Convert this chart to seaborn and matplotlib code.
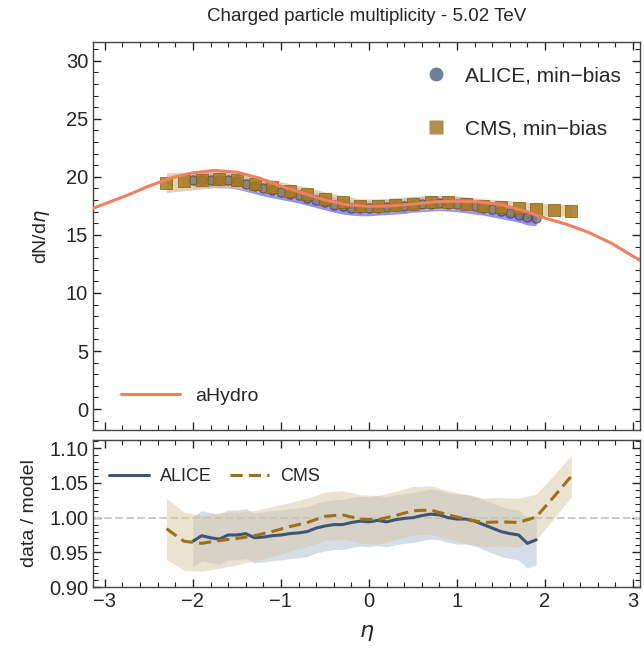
import numpy as np
import pandas as pd
import matplotlib
matplotlib.use("Agg")
import matplotlib.pyplot as plt
import seaborn as sns
from matplotlib.ticker import MultipleLocator, FormatStrFormatter
from matplotlib.lines import Line2D

sns.set_style("ticks")
plt.rcParams['font.family'] = ['Liberation Sans', 'DejaVu Sans']
plt.rcParams['mathtext.fontset'] = 'dejavusans'

# aHydro model curve
model_eta = [-3.13, -2.75, -2.5, -2.25, -2.0, -1.75, -1.5, -1.25, -1.0, -0.75, -0.5, -0.25,
             0.0, 0.25, 0.5, 0.75, 1.0, 1.25, 1.5, 1.75, 2.0, 2.25, 2.5, 2.75, 3.08]
model_dn = [17.3, 18.4, 19.2, 19.9, 20.35, 20.55, 20.4, 19.9, 19.2, 18.6, 18.0, 17.6,
            17.45, 17.5, 17.65, 17.85, 17.9, 17.85, 17.6, 17.1, 16.45, 15.9, 15.2, 14.3, 12.8]

# ALICE min-bias
alice_eta = [-2.0, -1.9, -1.8, -1.7, -1.6, -1.5, -1.4, -1.3, -1.2, -1.1, -1.0, -0.9, -0.8, -0.7,
             -0.6, -0.5, -0.4, -0.3, -0.2, -0.1, 0.0, 0.1, 0.2, 0.3, 0.4, 0.5, 0.6, 0.7, 0.8,
             0.9, 1.0, 1.1, 1.2, 1.3, 1.4, 1.5, 1.6, 1.7, 1.8, 1.9]
alice_dn = [19.7, 19.75, 19.75, 19.7, 19.7, 19.6, 19.4, 19.2, 19.0, 18.85, 18.7, 18.55, 18.4, 18.2,
            18.0, 17.8, 17.6, 17.45, 17.35, 17.3, 17.3, 17.35, 17.4, 17.45, 17.5, 17.6, 17.65, 17.7, 17.75,
            17.7, 17.65, 17.55, 17.45, 17.35, 17.2, 17.05, 16.9, 16.75, 16.5, 16.45]
alice_err = 0.65

# CMS min-bias
cms_eta = [-2.3, -2.1, -1.9, -1.7, -1.5, -1.3, -1.1, -0.9, -0.7, -0.5, -0.3, -0.1,
           0.1, 0.3, 0.5, 0.7, 0.9, 1.1, 1.3, 1.5, 1.7, 1.9, 2.1, 2.3]
cms_dn = [19.5, 19.6, 19.7, 19.8, 19.7, 19.4, 19.1, 18.8, 18.5, 18.1, 17.8, 17.5,
          17.5, 17.6, 17.7, 17.8, 17.8, 17.7, 17.5, 17.4, 17.3, 17.2, 17.15, 17.1]
cms_err = [0.85, 0.8, 0.75, 0.7, 0.7, 0.65, 0.65, 0.6, 0.6, 0.6, 0.6, 0.6,
           0.6, 0.6, 0.6, 0.6, 0.6, 0.6, 0.6, 0.6, 0.6, 0.55, 0.5, 0.5]

# data / model ratios
alice_ratio = [0.966, 0.974, 0.971, 0.969, 0.975, 0.975, 0.977, 0.971, 0.972, 0.974, 0.975, 0.977,
               0.978, 0.980, 0.985, 0.988, 0.990, 0.990, 0.993, 0.995, 0.994, 0.996, 0.994, 0.997,
               0.999, 1.000, 1.003, 1.005, 1.004, 1.000, 0.998, 0.998, 0.995, 0.990, 0.985, 0.980,
               0.977, 0.975, 0.963, 0.968]
alice_ratio_err = 0.036
cms_ratio = [0.984, 0.966, 0.963, 0.967, 0.970, 0.974, 0.980, 0.987, 0.993, 1.002, 1.004, 0.998,
             0.997, 1.003, 1.010, 1.011, 1.004, 0.998, 0.993, 0.994, 0.993, 1.001, 1.030, 1.060]
cms_ratio_err = [0.044, 0.042, 0.040, 0.040, 0.038, 0.036, 0.036, 0.035, 0.035, 0.035, 0.035, 0.035,
                 0.035, 0.035, 0.035, 0.035, 0.035, 0.035, 0.035, 0.035, 0.035, 0.033, 0.031, 0.030]

model = pd.DataFrame({"eta": model_eta, "dn": model_dn})
alice = pd.DataFrame({"eta": alice_eta, "dn": alice_dn, "ratio": alice_ratio})
cms = pd.DataFrame({"eta": cms_eta, "dn": cms_dn, "err": cms_err,
                    "ratio": cms_ratio, "rerr": cms_ratio_err})

c_model = "#f08060"
c_alice = "#3e5578"
c_cms = "#a07018"

fig = plt.figure(figsize=(6.44, 6.58), dpi=100)
ax1 = fig.add_axes([0.1444, 0.3465, 0.8495, 0.5895])
ax2 = fig.add_axes([0.1444, 0.1079, 0.8495, 0.2234])

# top panel
ax1.fill_between(alice["eta"], alice["dn"] - alice_err, alice["dn"] + alice_err,
                 color="#6e6eff", alpha=0.75, lw=0)
ax1.fill_between(cms["eta"], cms["dn"] - cms["err"], cms["dn"] + cms["err"],
                 color="#d9c7a0", alpha=0.8, lw=0)
sns.scatterplot(data=alice, x="eta", y="dn", ax=ax1, marker="o", s=45,
                color="#707070", edgecolor="#404040", alpha=0.75, linewidth=0.8, zorder=3)
sns.scatterplot(data=cms, x="eta", y="dn", ax=ax1, marker="s", s=65,
                color="#a87820", edgecolor="#8a6010", alpha=0.85, linewidth=0.6, zorder=4)
sns.lineplot(data=model, x="eta", y="dn", ax=ax1, color=c_model, lw=2.2, zorder=5)

ax1.set_xlim(-3.135, 3.08)
ax1.set_ylim(-1.8, 31.6)
ax1.set_xlabel("")
ax1.set_ylabel(r"dN/d$\eta$", fontsize=14, labelpad=10)
ax1.set_xticklabels([])
ax1.set_title("Charged particle multiplicity - 5.02 TeV", fontsize=13.5, pad=15)

leg_pts = [Line2D([], [], marker="o", ls="", ms=10, color="#6f7f99", mec="none"),
           Line2D([], [], marker="s", ls="", ms=10, color="#b08d50", mec="none")]
leg1 = ax1.legend(leg_pts, ["ALICE, min\u2212bias", "CMS, min\u2212bias"], loc="upper right",
                  frameon=False, fontsize=15, handletextpad=0.4, labelspacing=1.6,
                  bbox_to_anchor=(1.0, 0.985))
ax1.add_artist(leg1)
ax1.legend([Line2D([], [], color=c_model, lw=2.2)], ["aHydro"], loc="lower left",
           frameon=False, fontsize=14, handlelength=3.0, bbox_to_anchor=(0.02, 0.02))

# bottom panel
ax2.axhline(1.0, color="#cccccc", ls="--", lw=1.5, zorder=1)
ax2.fill_between(alice["eta"], alice["ratio"] - alice_ratio_err, alice["ratio"] + alice_ratio_err,
                 color="#b0bcd0", alpha=0.5, lw=0)
ax2.fill_between(cms["eta"], cms["ratio"] - cms["rerr"], cms["ratio"] + cms["rerr"],
                 color="#d8c8a4", alpha=0.5, lw=0)
sns.lineplot(data=alice, x="eta", y="ratio", ax=ax2, color=c_alice, lw=2.2, label="ALICE")
sns.lineplot(data=cms, x="eta", y="ratio", ax=ax2, color=c_cms, lw=2.2, ls=(0, (4, 2)), label="CMS")
ax2.legend(loc="upper left", ncol=2, frameon=False, fontsize=13, handlelength=2.2,
           handletextpad=0.6, columnspacing=1.0, bbox_to_anchor=(0.0, 0.92))

ax2.set_xlim(-3.135, 3.08)
ax2.set_ylim(0.9, 1.112)
ax2.set_xlabel(r"$\eta$", fontsize=16, labelpad=8)
ax2.set_ylabel("data / model", fontsize=14, labelpad=8)
ax2.yaxis.set_major_locator(MultipleLocator(0.05))
ax2.yaxis.set_major_formatter(FormatStrFormatter("%.2f"))
ax2.yaxis.set_minor_locator(MultipleLocator(0.01))

ax1.yaxis.set_major_locator(MultipleLocator(5))
ax1.yaxis.set_minor_locator(MultipleLocator(1))
for ax in (ax1, ax2):
    ax.xaxis.set_major_locator(MultipleLocator(1))
    ax.xaxis.set_minor_locator(MultipleLocator(0.2))
    ax.tick_params(which="both", direction="in", top=True, right=True, labelsize=14.5)
    ax.tick_params(which="major", length=6, width=1)
    ax.tick_params(which="minor", length=3.5, width=0.8)
    for sp in ax.spines.values():
        sp.set_color("#444444")
        sp.set_linewidth(1)

fig.savefig("out.png", dpi=100)
